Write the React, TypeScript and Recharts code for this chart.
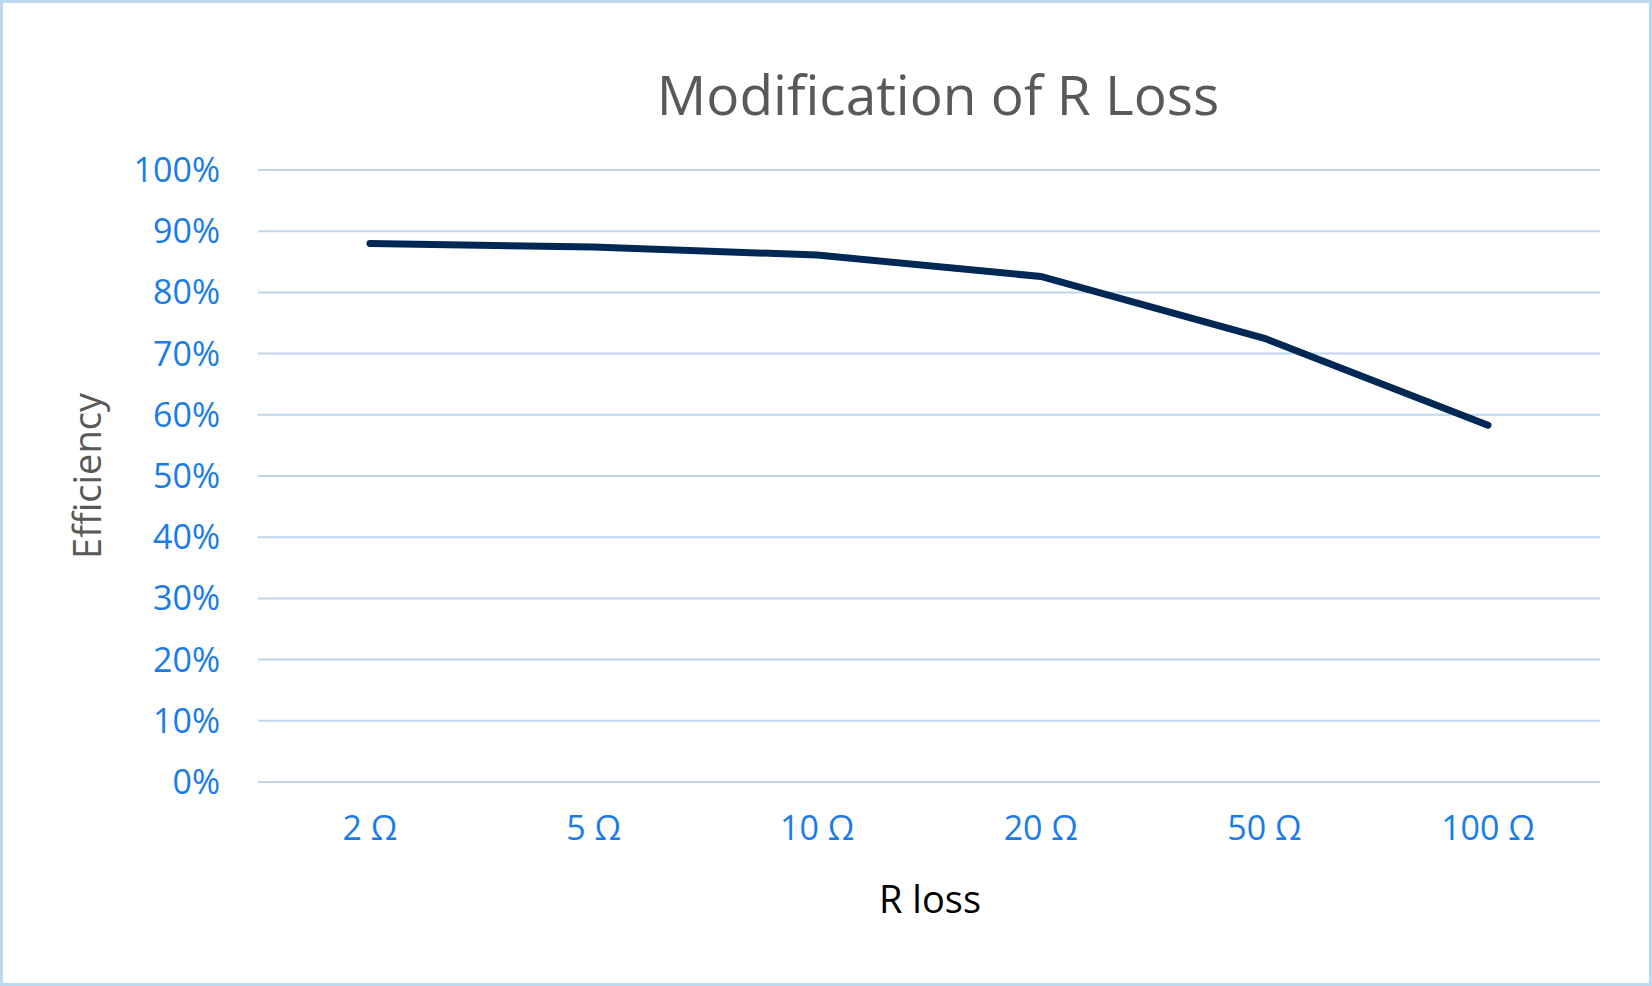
import React from "react";
import { LineChart, Line, XAxis, YAxis, CartesianGrid } from "recharts";

const categories = ["2 Ω", "5 Ω", "10 Ω", "20 Ω", "50 Ω", "100 Ω"];
const efficiency = [0.88, 0.874, 0.861, 0.826, 0.725, 0.583];
const yTicks = [0, 0.1, 0.2, 0.3, 0.4, 0.5, 0.6, 0.7, 0.8, 0.9, 1];

const data = categories.map((c, i) => ({ name: c, eff: efficiency[i] }));
const font = "'Open Sans', 'Noto Sans', sans-serif";
const blue = "#1a7ce8";

export default function App() {
  return (
    <div style={{ position: "absolute", left: 0, top: 0, width: 1652, height: 986, background: "#fff", fontFamily: font }}>
      <div style={{ position: "absolute", left: 0, top: 0, width: 1646, height: 980, border: "3px solid #bdd7ee" }} />
      <div style={{ position: "absolute", left: 0, width: 1876, top: 56, textAlign: "center", fontSize: 55, color: "#595959" }}>
        Modification of R Loss
      </div>
      <div style={{ position: "absolute", left: 0, width: 1860, top: 872, textAlign: "center", fontSize: 38, color: "#000" }}>
        R loss
      </div>
      <div style={{ position: "absolute", left: 86, top: 476, transform: "translate(-50%,-50%) rotate(-90deg)", fontSize: 38, color: "#595959", whiteSpace: "nowrap" }}>
        Efficiency
      </div>
      <LineChart width={1652} height={986} data={data} margin={{ top: 170, right: 52, left: 0, bottom: 104 }}>
        <CartesianGrid vertical={false} stroke="#bdd7ee" strokeWidth={2} />
        <XAxis dataKey="name" height={100} padding={{ left: 112, right: 112 }} axisLine={{ stroke: "#bdd7ee", strokeWidth: 2 }} tickLine={false} tickSize={0} tickMargin={34}
          tick={{ fill: blue, fontSize: 34, fontFamily: font }} />
        <YAxis width={258} domain={[0, 1]} ticks={yTicks} axisLine={false} tickLine={false} tickSize={0} tickMargin={38}
          tickFormatter={(v: number) => `${Math.round(v * 100)}%`} tick={{ fill: blue, fontSize: 34, fontFamily: font }} />
        <Line dataKey="eff" stroke="#002855" strokeWidth={7} dot={false} isAnimationActive={false} strokeLinecap="round" />
      </LineChart>
    </div>
  );
}
